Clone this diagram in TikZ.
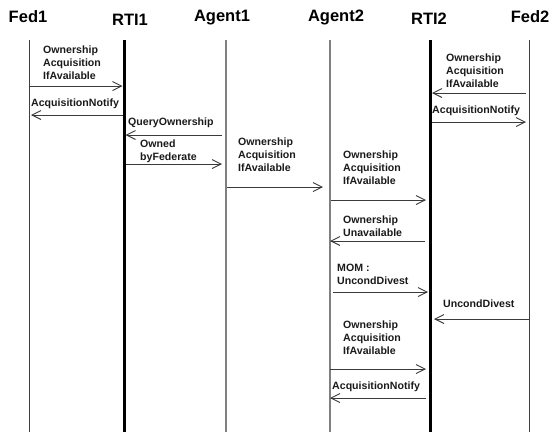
\documentclass[tikz,border=0pt]{standalone}
\usepackage{fontspec}
\setmainfont{Liberation Sans}
\usetikzlibrary{arrows.meta}
\definecolor{txt}{HTML}{1A1A1A}
\definecolor{arr}{HTML}{3A3A3A}
\definecolor{fedline}{HTML}{404040}
\definecolor{agline}{HTML}{808080}
\tikzset{
  x=1pt, y=-1pt,
  head/.style={font=\fontsize{16.5}{19}\selectfont\bfseries, text=black, inner sep=0pt, anchor=base},
  lbl/.style={font=\fontsize{10.6}{13}\selectfont\bfseries, text=txt, inner sep=0pt, anchor=base west, align=left},
  msg/.style={draw=arr, line width=0.9pt, -{Straight Barb[length=9pt,width=9pt]}},
  fedlife/.style={draw=fedline, line width=1pt},
  aglife/.style={draw=agline, line width=1.6pt},
  rtilife/.style={draw=black, line width=3pt},
}
\begin{document}
\begin{tikzpicture}
\useasboundingbox (0,0) rectangle (553,432);
% headers
\node[head] (hF1) at (28,22) {Fed1};
\node[head] (hR1) at (130,25) {RTI1};
\node[head] (hA1) at (222,21) {Agent1};
\node[head] (hA2) at (336,21) {Agent2};
\node[head] (hR2) at (429,24) {RTI2};
\node[head] (hF2) at (530,22) {Fed2};
% lifelines
\coordinate (F1) at (29,40);  \coordinate (F1b) at (29,432);
\coordinate (R1) at (124,40); \coordinate (R1b) at (124,432);
\coordinate (A1) at (226,40); \coordinate (A1b) at (226,432);
\coordinate (A2) at (330,40); \coordinate (A2b) at (330,432);
\coordinate (R2) at (430,40); \coordinate (R2b) at (430,432);
\coordinate (F2) at (529,40); \coordinate (F2b) at (529,432);
\draw[fedlife] (F1) -- (F1b);
\draw[fedlife] (F2) -- (F2b);
\draw[aglife] (A1) -- (A1b);
\draw[aglife] (A2) -- (A2b);
\draw[rtilife] (R1) -- (R1b);
\draw[rtilife] (R2) -- (R2b);
% messages (label anchor = baseline of last line)
\draw[msg, shorten >=1.5pt] (F1|-0,86) -- (R1|-0,86);
\node[lbl] (m1) at (43,79) {Ownership\\Acquisition\\IfAvailable};
\draw[msg, shorten <=1.5pt, shorten >=2pt] (R1|-0,115) -- (F1|-0,115);
\node[lbl] (m2) at (31,106) {AcquisitionNotify};
\draw[msg, shorten <=4pt, shorten >=1.5pt] (A1|-0,135) -- (R1|-0,135);
\node[lbl] (m3) at (128,125) {QueryOwnership};
\draw[msg, shorten <=2pt, shorten >=4pt] (R1|-0,164) -- (A1|-0,164);
\node[lbl] (m4) at (140,160) {Owned\\byFederate};
\draw[msg, shorten <=1pt, shorten >=7pt] (A1|-0,187) -- (A2|-0,187);
\node[lbl] (m5) at (238,171) {Ownership\\Acquisition\\IfAvailable};
\draw[msg, shorten <=1pt, shorten >=4pt] (A2|-0,200) -- (R2|-0,200);
\node[lbl] (m6) at (343,184) {Ownership\\Acquisition\\IfAvailable};
\draw[msg, shorten <=5pt, shorten >=0pt] (R2|-0,241) -- (A2|-0,241);
\node[lbl] (m7) at (343,236) {Ownership\\Unavailable};
\draw[msg, shorten <=3pt, shorten >=2pt] (A2|-0,292) -- (R2|-0,292);
\node[lbl] (m8) at (337,284) {MOM :\\UncondDivest};
\draw[msg, shorten <=0pt, shorten >=4pt] (F2|-0,319) -- (R2|-0,319);
\node[lbl] (m9) at (443,307) {UncondDivest};
\draw[msg, shorten <=0pt, shorten >=4pt] (A2|-0,369) -- (R2|-0,369);
\node[lbl] (m10) at (343,354) {Ownership\\Acquisition\\IfAvailable};
\draw[msg, shorten <=4pt, shorten >=0pt] (R2|-0,398) -- (A2|-0,398);
\node[lbl] (m11) at (332,389) {AcquisitionNotify};
\draw[msg, shorten <=3pt, shorten >=2pt] (F2|-0,93) -- (R2|-0,93);
\node[lbl] (m12) at (446,87) {Ownership\\Acquisition\\IfAvailable};
\draw[msg, shorten <=2pt, shorten >=3pt] (R2|-0,122) -- (F2|-0,122);
\node[lbl] (m13) at (432,113) {AcquisitionNotify};
\end{tikzpicture}
\end{document}
